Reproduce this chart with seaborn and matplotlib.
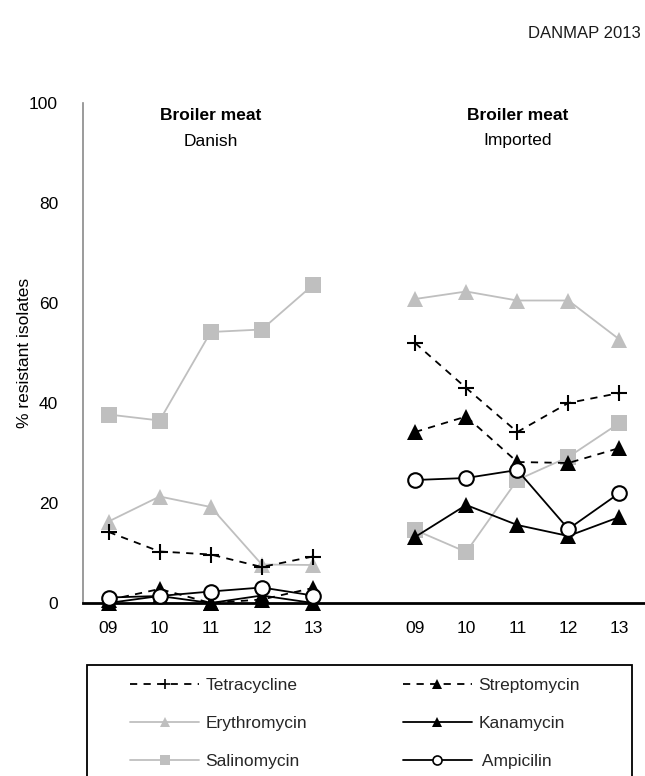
import matplotlib
matplotlib.use("Agg")
import matplotlib.pyplot as plt
import matplotlib.transforms as mtransforms
from matplotlib.lines import Line2D
from matplotlib.patches import Rectangle
import numpy as np
import pandas as pd
import seaborn as sns

# ---- data -------------------------------------------------------------
years = ["09", "10", "11", "12", "13"]
origins = ["Danish", "Imported"]
drugs = ["Salinomycin", "Erythromycin", "Tetracycline",
         "Streptomycin", "Kanamycin", "Ampicilin"]

tetracycline_dk = [14.2, 10.3, 9.7, 7.2, 9.3]
streptomycin_dk = [0.6, 2.8, 0.0, 0.7, 3.0]
erythromycin_dk = [16.3, 21.3, 19.2, 7.7, 7.6]
kanamycin_dk = [0.0, 1.4, 0.0, 1.5, 0.0]
salinomycin_dk = [37.7, 36.5, 54.2, 54.7, 63.6]
ampicilin_dk = [1.1, 1.4, 2.3, 3.1, 1.5]

tetracycline_imp = [52.0, 43.0, 34.2, 40.0, 42.0]
streptomycin_imp = [34.2, 37.3, 28.2, 28.0, 31.0]
erythromycin_imp = [60.8, 62.3, 60.5, 60.5, 52.7]
kanamycin_imp = [13.2, 19.6, 15.6, 13.4, 17.2]
salinomycin_imp = [14.6, 10.2, 24.6, 29.2, 36.0]
ampicilin_imp = [24.6, 25.0, 26.6, 14.8, 22.0]

series = {
    ("Danish", "Tetracycline"): tetracycline_dk,
    ("Danish", "Streptomycin"): streptomycin_dk,
    ("Danish", "Erythromycin"): erythromycin_dk,
    ("Danish", "Kanamycin"): kanamycin_dk,
    ("Danish", "Salinomycin"): salinomycin_dk,
    ("Danish", "Ampicilin"): ampicilin_dk,
    ("Imported", "Tetracycline"): tetracycline_imp,
    ("Imported", "Streptomycin"): streptomycin_imp,
    ("Imported", "Erythromycin"): erythromycin_imp,
    ("Imported", "Kanamycin"): kanamycin_imp,
    ("Imported", "Salinomycin"): salinomycin_imp,
    ("Imported", "Ampicilin"): ampicilin_imp,
}

# long-form table; the two groups sit side by side with one empty slot between
rows = []
for (origin, drug), vals in series.items():
    offset = origins.index(origin) * (len(years) + 1)
    for i, (yr, v) in enumerate(zip(years, vals)):
        rows.append(dict(origin=origin, drug=drug, year=yr, pos=offset + i, value=v))
df = pd.DataFrame(rows)

# ---- styles -----------------------------------------------------------
GRAY = "#BFBFBF"
DASH = (0, (4, 3.5))
styles = {
    "Salinomycin":  dict(color=GRAY, linestyle="-", marker="s", ms=11, mfc=GRAY, mec=GRAY, mew=0, lw=1.3),
    "Erythromycin": dict(color=GRAY, linestyle="-", marker="^", ms=12, mfc=GRAY, mec=GRAY, mew=0, lw=1.3),
    "Tetracycline": dict(color="black", linestyle=DASH, marker="+", ms=11, mfc="black", mec="black", mew=1.5, lw=1.3),
    "Streptomycin": dict(color="black", linestyle=DASH, marker="^", ms=11, mfc="black", mec="black", mew=0, lw=1.3),
    "Kanamycin":    dict(color="black", linestyle="-", marker="^", ms=11, mfc="black", mec="black", mew=0, lw=1.3),
    "Ampicilin":    dict(color="black", linestyle="-", marker="o", ms=10.5, mfc="white", mec="black", mew=1.5, lw=1.3),
}

sns.set_theme(style="white")
plt.rcParams["font.family"] = ["Liberation Sans", "DejaVu Sans"]

fig = plt.figure(figsize=(6.45, 7.76), dpi=100)
W, H = 645, 776
ax = fig.add_axes([83 / W, 173 / H, 562 / W, 500 / H])

for z, drug in enumerate(drugs):
    st = styles[drug]
    for origin in origins:
        sub = df[(df.origin == origin) & (df.drug == drug)]
        sns.lineplot(data=sub, x="pos", y="value", ax=ax, legend=False,
                     errorbar=None, color=st["color"], linestyle=st["linestyle"],
                     linewidth=st["lw"], marker=st["marker"], markersize=st["ms"],
                     markerfacecolor=st["mfc"], markeredgecolor=st["mec"],
                     markeredgewidth=st["mew"], clip_on=False, zorder=3 + z)

# ---- axes -------------------------------------------------------------
n_slots = 2 * len(years) + 1
ax.set_xlim(-0.5, n_slots - 0.5)
ax.set_ylim(0, 100)
ax.set_yticks(np.arange(0, 101, 20))
ax.set_yticklabels([str(v) for v in range(0, 101, 20)], fontsize=12.5, color="black")

positions = [p for p in range(n_slots) if p != len(years)]
ax.set_xticks(positions)
ax.set_xticklabels(years + years, fontsize=12.5, color="black")
ax.set_xticks(np.arange(-0.5, n_slots, 1.0), minor=True)
ax.tick_params(axis="x", which="major", length=0, pad=13)
ax.tick_params(axis="x", which="minor", length=5, width=1.5, color="black", direction="out")
ax.tick_params(axis="y", which="major", length=5, width=1, color="#8a8a8a", direction="out", pad=13)
ax.set_xlabel("")
ax.set_ylabel("% resistant isolates", fontsize=12.5, color="black")
ax.yaxis.set_label_coords(-0.091, 0.5)

for s in ("top", "right"):
    ax.spines[s].set_visible(False)
ax.spines["left"].set_color("#8a8a8a")
ax.spines["left"].set_linewidth(1.2)
ax.spines["bottom"].set_color("black")
ax.spines["bottom"].set_linewidth(2)
ax.spines["bottom"].set_zorder(2.5)

# panel headers
trans = mtransforms.blended_transform_factory(ax.transData, ax.transAxes)
for i, origin in enumerate(origins):
    cx = i * (len(years) + 1) + (len(years) - 1) / 2
    ax.text(cx, 0.974, "Broiler meat", transform=trans, ha="center", va="center",
            fontsize=12.5, fontweight="bold", color="black")
    ax.text(cx, 0.924, origin, transform=trans, ha="center", va="center",
            fontsize=12.5, color="black")

# source tag
fig.text(641 / W, 1 - 33 / H, "DANMAP 2013", ha="right", va="center",
         fontsize=12, color="#1a1a1a", fontstretch="condensed",
         family=["Liberation Sans Narrow", "Liberation Sans", "DejaVu Sans"])

# ---- legend -----------------------------------------------------------
def handle(drug):
    st = styles[drug]
    small = {"s": 6.5, "^": 6.5, "+": 7, "o": 6.5}[st["marker"]]
    return Line2D([], [], color=st["color"], linestyle=st["linestyle"], linewidth=st["lw"],
                  marker=st["marker"], markersize=small, markerfacecolor=st["mfc"],
                  markeredgecolor=st["mec"], markeredgewidth=min(st["mew"], 1.2))

leg_order = ["Tetracycline", "Erythromycin", "Salinomycin",
             "Streptomycin", "Kanamycin", "Ampicilin"]
leg_labels = ["Tetracycline", "Erythromycin", "Salinomycin",
              "Streptomycin", "Kanamycin", " Ampicilin"]
fig.legend([handle(d) for d in leg_order], leg_labels, ncol=2, loc="upper left",
           bbox_to_anchor=(130 / W, 1 - 678 / H), frameon=False, fontsize=12.5,
           handlelength=4.0, handletextpad=0.35, columnspacing=5.5,
           labelspacing=1.3, borderpad=0, borderaxespad=0)
fig.patches.append(Rectangle((87 / W, -0.01), 545 / W, 1 - 665 / H + 0.01,
                             transform=fig.transFigure, fill=False,
                             edgecolor="black", linewidth=1.3))

fig.savefig("out.png", dpi=100)
